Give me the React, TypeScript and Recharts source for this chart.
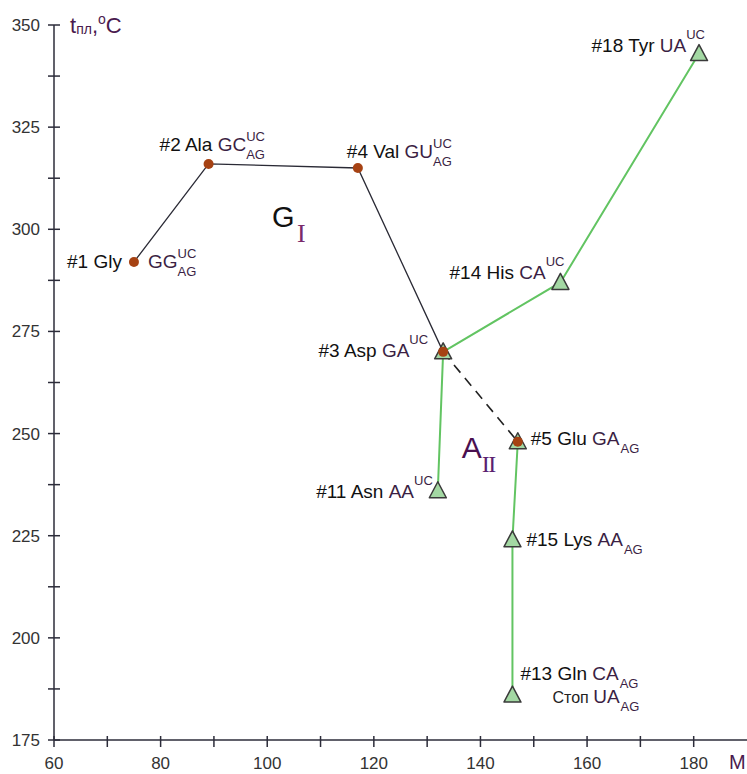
import { ScatterChart, Scatter, XAxis, YAxis } from "recharts";

// amino acids: M (molar mass) vs melting temperature
const ids = ["Gly", "Ala", "Val", "Asp", "Glu", "Asn", "His", "Tyr", "Lys", "Gln"];
const names = ["#1 Gly", "#2 Ala", "#4 Val", "#3 Asp", "#5 Glu", "#11 Asn", "#14 His", "#18 Tyr", "#15 Lys", "#13 Gln"];
const molMass = [75, 89, 117, 133, 147, 132, 155, 181, 146, 146];
const meltT = [292, 316, 315, 270, 248, 236, 287, 343, 224, 186];
const codons = ["GG", "GC", "GU", "GA", "GA", "AA", "CA", "UA", "AA", "CA"];
const codonSup = ["UC", "UC", "UC", "UC", "", "UC", "UC", "UC", "", ""];
const codonSub = ["AG", "AG", "AG", "", "AG", "", "", "", "AG", "AG"];

// second line under Gln
const stopNote = { word: "Стоп", codon: "UA", sub: "AG" };

const chainG = ["Gly", "Ala", "Val", "Asp"];
const chainDashed = ["Asp", "Glu"];
const chainA1 = ["Asn", "Asp", "His", "Tyr"];
const chainA2 = ["Glu", "Lys", "Gln"];
const dotSet = ["Gly", "Ala", "Val", "Asp", "Glu"];
const triSet = ["Asp", "Glu", "Asn", "His", "Tyr", "Lys", "Gln"];

const groupLabels = [
  { x: 100.9, y: 300.6, main: "G", sub: "I" },
  { x: 136.5, y: 244, main: "A", sub: "II" },
];

const xTicks = [60, 70, 80, 90, 100, 110, 120, 130, 140, 150, 160, 170, 180];
const xTickLabels = [60, 80, 100, 120, 140, 160, 180];
const yTicks = [175, 187.5, 200, 212.5, 225, 237.5, 250, 262.5, 275, 287.5, 300, 312.5, 325, 337.5, 350];
const yTickLabels = [175, 200, 225, 250, 275, 300, 325, 350];

const points = ids.map((id, i) => ({
  id,
  name: names[i],
  x: molMass[i],
  y: meltT[i],
  codon: codons[i],
  sup: codonSup[i],
  sub: codonSub[i],
}));
const pick = (list: string[]) => list.map((id) => points.find((p) => p.id === id)!);

const SANS = '"Liberation Sans", Arial, sans-serif';
const SERIF = '"Liberation Serif", "Times New Roman", serif';
const axisColor = "#2c2c3a";
const tickText = "#333";
const codonColor = "#3b1f44";
const titleColor = "#4a1a4e";
const green = "#62c462";

// label offsets from the marker (px)
const labelPos: Record<string, { dx: number; dy: number; anchor: "start" | "end" }> = {
  Ala: { dx: -49, dy: -13, anchor: "start" },
  Val: { dx: -11, dy: -10, anchor: "start" },
  Asp: { dx: -15, dy: 5, anchor: "end" },
  Glu: { dx: 13, dy: 3, anchor: "start" },
  Asn: { dx: -5, dy: 7, anchor: "end" },
  His: { dx: 4, dy: -3, anchor: "end" },
  Tyr: { dx: 6, dy: -2, anchor: "end" },
  Lys: { dx: 14, dy: 6, anchor: "start" },
  Gln: { dx: 8, dy: -15, anchor: "start" },
};

const SUP_W = 18.8; // width of "UC" at 13px

function CodonSpans({ codon, sup, sub }: { codon: string; sup: string; sub: string }) {
  const supDy = sub ? -10 : -13;
  return (
    <>
      <tspan fill={codonColor}>{codon}</tspan>
      {sup && (
        <tspan fontSize={13} fill={codonColor} dy={supDy}>
          {sup}
        </tspan>
      )}
      {sub && (
        <tspan fontSize={13} fill={codonColor} dx={sup ? -SUP_W : 1} dy={sup ? -supDy + 8 : 8}>
          {sub}
        </tspan>
      )}
    </>
  );
}

function PointLabel(props: any) {
  const { cx, cy, payload } = props;
  if (cx == null) return <g />;
  if (payload.id === "Gly") {
    return (
      <g fontFamily={SANS} fontSize={19}>
        <text x={cx - 12} y={cy + 6} textAnchor="end" fill="#111">
          {payload.name}
        </text>
        <text x={cx + 14} y={cy + 6}>
          <CodonSpans codon={payload.codon} sup={payload.sup} sub={payload.sub} />
        </text>
      </g>
    );
  }
  const pos = labelPos[payload.id];
  return (
    <g fontFamily={SANS} fontSize={19}>
      <text x={cx + pos.dx} y={cy + pos.dy} textAnchor={pos.anchor}>
        <tspan fill="#111">{payload.name + "\u00a0"}</tspan>
        <CodonSpans codon={payload.codon} sup={payload.sup} sub={payload.sub} />
      </text>
      {payload.id === "Gln" && (
        <text x={cx + 40} y={cy + 8}>
          <tspan fill="#222" fontSize={16}>{stopNote.word + "\u00a0"}</tspan>
          <CodonSpans codon={stopNote.codon} sup="" sub={stopNote.sub} />
        </text>
      )}
    </g>
  );
}

function GroupLabel(props: any) {
  const { cx, cy, payload } = props;
  if (cx == null) return <g />;
  const isG = payload.main === "G";
  return (
    <g>
      <text x={cx} y={cy} fontFamily={SANS} fontSize={isG ? 29 : 30} fill={isG ? "#111" : "#4a1050"}>
        {payload.main}
      </text>
      <text
        x={cx + (isG ? 25 : 20)}
        y={cy + (isG ? 15 : 14)}
        fontFamily={SERIF}
        fontSize={isG ? 26 : 24}
        fill={isG ? "#7a2a6a" : "#5a2070"}
        letterSpacing={isG ? 0 : -1.5}
      >
        {payload.sub}
      </text>
    </g>
  );
}

const Triangle = (props: any) => {
  const { cx, cy } = props;
  if (cx == null) return <g />;
  return (
    <path
      d={`M${cx},${cy - 9} L${cx + 8.5},${cy + 7} L${cx - 8.5},${cy + 7} Z`}
      fill="#a3d8a3"
      stroke="#3a3a3a"
      strokeWidth={1.5}
      strokeLinejoin="round"
    />
  );
};

const Dot = (props: any) => {
  const { cx, cy } = props;
  if (cx == null) return <g />;
  return <circle cx={cx} cy={cy} r={5} fill="#a64213" />;
};

const noShape = () => <g />;

const XTick = (props: any) => {
  const { x, y, payload } = props;
  const v = payload.value;
  return (
    <g>
      <line x1={x} x2={x} y1={y - 4} y2={y + 7} stroke={axisColor} strokeWidth={1.5} />
      {xTickLabels.includes(v) && (
        <text x={x} y={y + 29} textAnchor="middle" fontFamily={SANS} fontSize={17} fill={tickText}>
          {v}
        </text>
      )}
    </g>
  );
};

const YTick = (props: any) => {
  const { x, y, payload } = props;
  const v = payload.value;
  return (
    <g>
      <line x1={x - 6} x2={x + 6} y1={y} y2={y} stroke={axisColor} strokeWidth={1.5} />
      {yTickLabels.includes(v) && (
        <text x={x - 14} y={y + 6} textAnchor="end" fontFamily={SANS} fontSize={17} fill={tickText}>
          {v}
        </text>
      )}
    </g>
  );
};

const YTitle = (props: any) => {
  const { viewBox } = props;
  const x = viewBox.x + viewBox.width + 16;
  const y = viewBox.y + 8;
  return (
    <text x={x} y={y} fontFamily={SANS} fontSize={22} fill={titleColor}>
      t
      <tspan fontSize={14} dy={1}>
        пл
      </tspan>
      <tspan dy={-1}>,</tspan>
      <tspan fontSize={14} dy={-9}>
        o
      </tspan>
      <tspan dy={9}>C</tspan>
    </text>
  );
};

const XTitle = (props: any) => {
  const { viewBox } = props;
  return (
    <text x={viewBox.x + viewBox.width - 18} y={viewBox.y + 29} fontFamily={SANS} fontSize={20} fill={titleColor}>
      M
    </text>
  );
};

export default function App() {
  return (
    <div style={{ position: "absolute", left: 0, top: 0, width: 747, height: 774, background: "#fff", fontFamily: SANS }}>
      <ScatterChart width={747} height={774} margin={{ top: 25, right: 0, bottom: 0, left: 0 }}>
        <XAxis
          type="number"
          dataKey="x"
          domain={[60, 190]}
          ticks={xTicks}
          interval={0}
          height={34}
          tickSize={0}
          tickMargin={0}
          tickLine={false}
          axisLine={{ stroke: axisColor, strokeWidth: 1.5 }}
          tick={XTick}
          label={{ content: XTitle }}
          allowDataOverflow
        />
        <YAxis
          type="number"
          dataKey="y"
          domain={[175, 350]}
          ticks={yTicks}
          interval={0}
          width={54}
          tickSize={0}
          tickMargin={0}
          tickLine={false}
          axisLine={{ stroke: axisColor, strokeWidth: 1.5 }}
          tick={YTick}
          label={{ content: YTitle }}
          allowDataOverflow
        />
        <Scatter data={pick(chainG)} line={{ stroke: "#2a2a35", strokeWidth: 1.3 }} lineType="joint" shape={noShape} isAnimationActive={false} />
        <Scatter
          data={pick(chainDashed)}
          line={{ stroke: "#222", strokeWidth: 1.6, strokeDasharray: "10 7" }}
          lineType="joint"
          shape={noShape}
          isAnimationActive={false}
        />
        <Scatter data={pick(chainA1)} line={{ stroke: green, strokeWidth: 2 }} lineType="joint" shape={noShape} isAnimationActive={false} />
        <Scatter data={pick(chainA2)} line={{ stroke: green, strokeWidth: 2 }} lineType="joint" shape={noShape} isAnimationActive={false} />
        <Scatter data={pick(triSet)} shape={Triangle} isAnimationActive={false} />
        <Scatter data={pick(dotSet)} shape={Dot} isAnimationActive={false} />
        <Scatter data={points} shape={PointLabel} isAnimationActive={false} />
        <Scatter data={groupLabels} shape={GroupLabel} isAnimationActive={false} />
      </ScatterChart>
    </div>
  );
}
